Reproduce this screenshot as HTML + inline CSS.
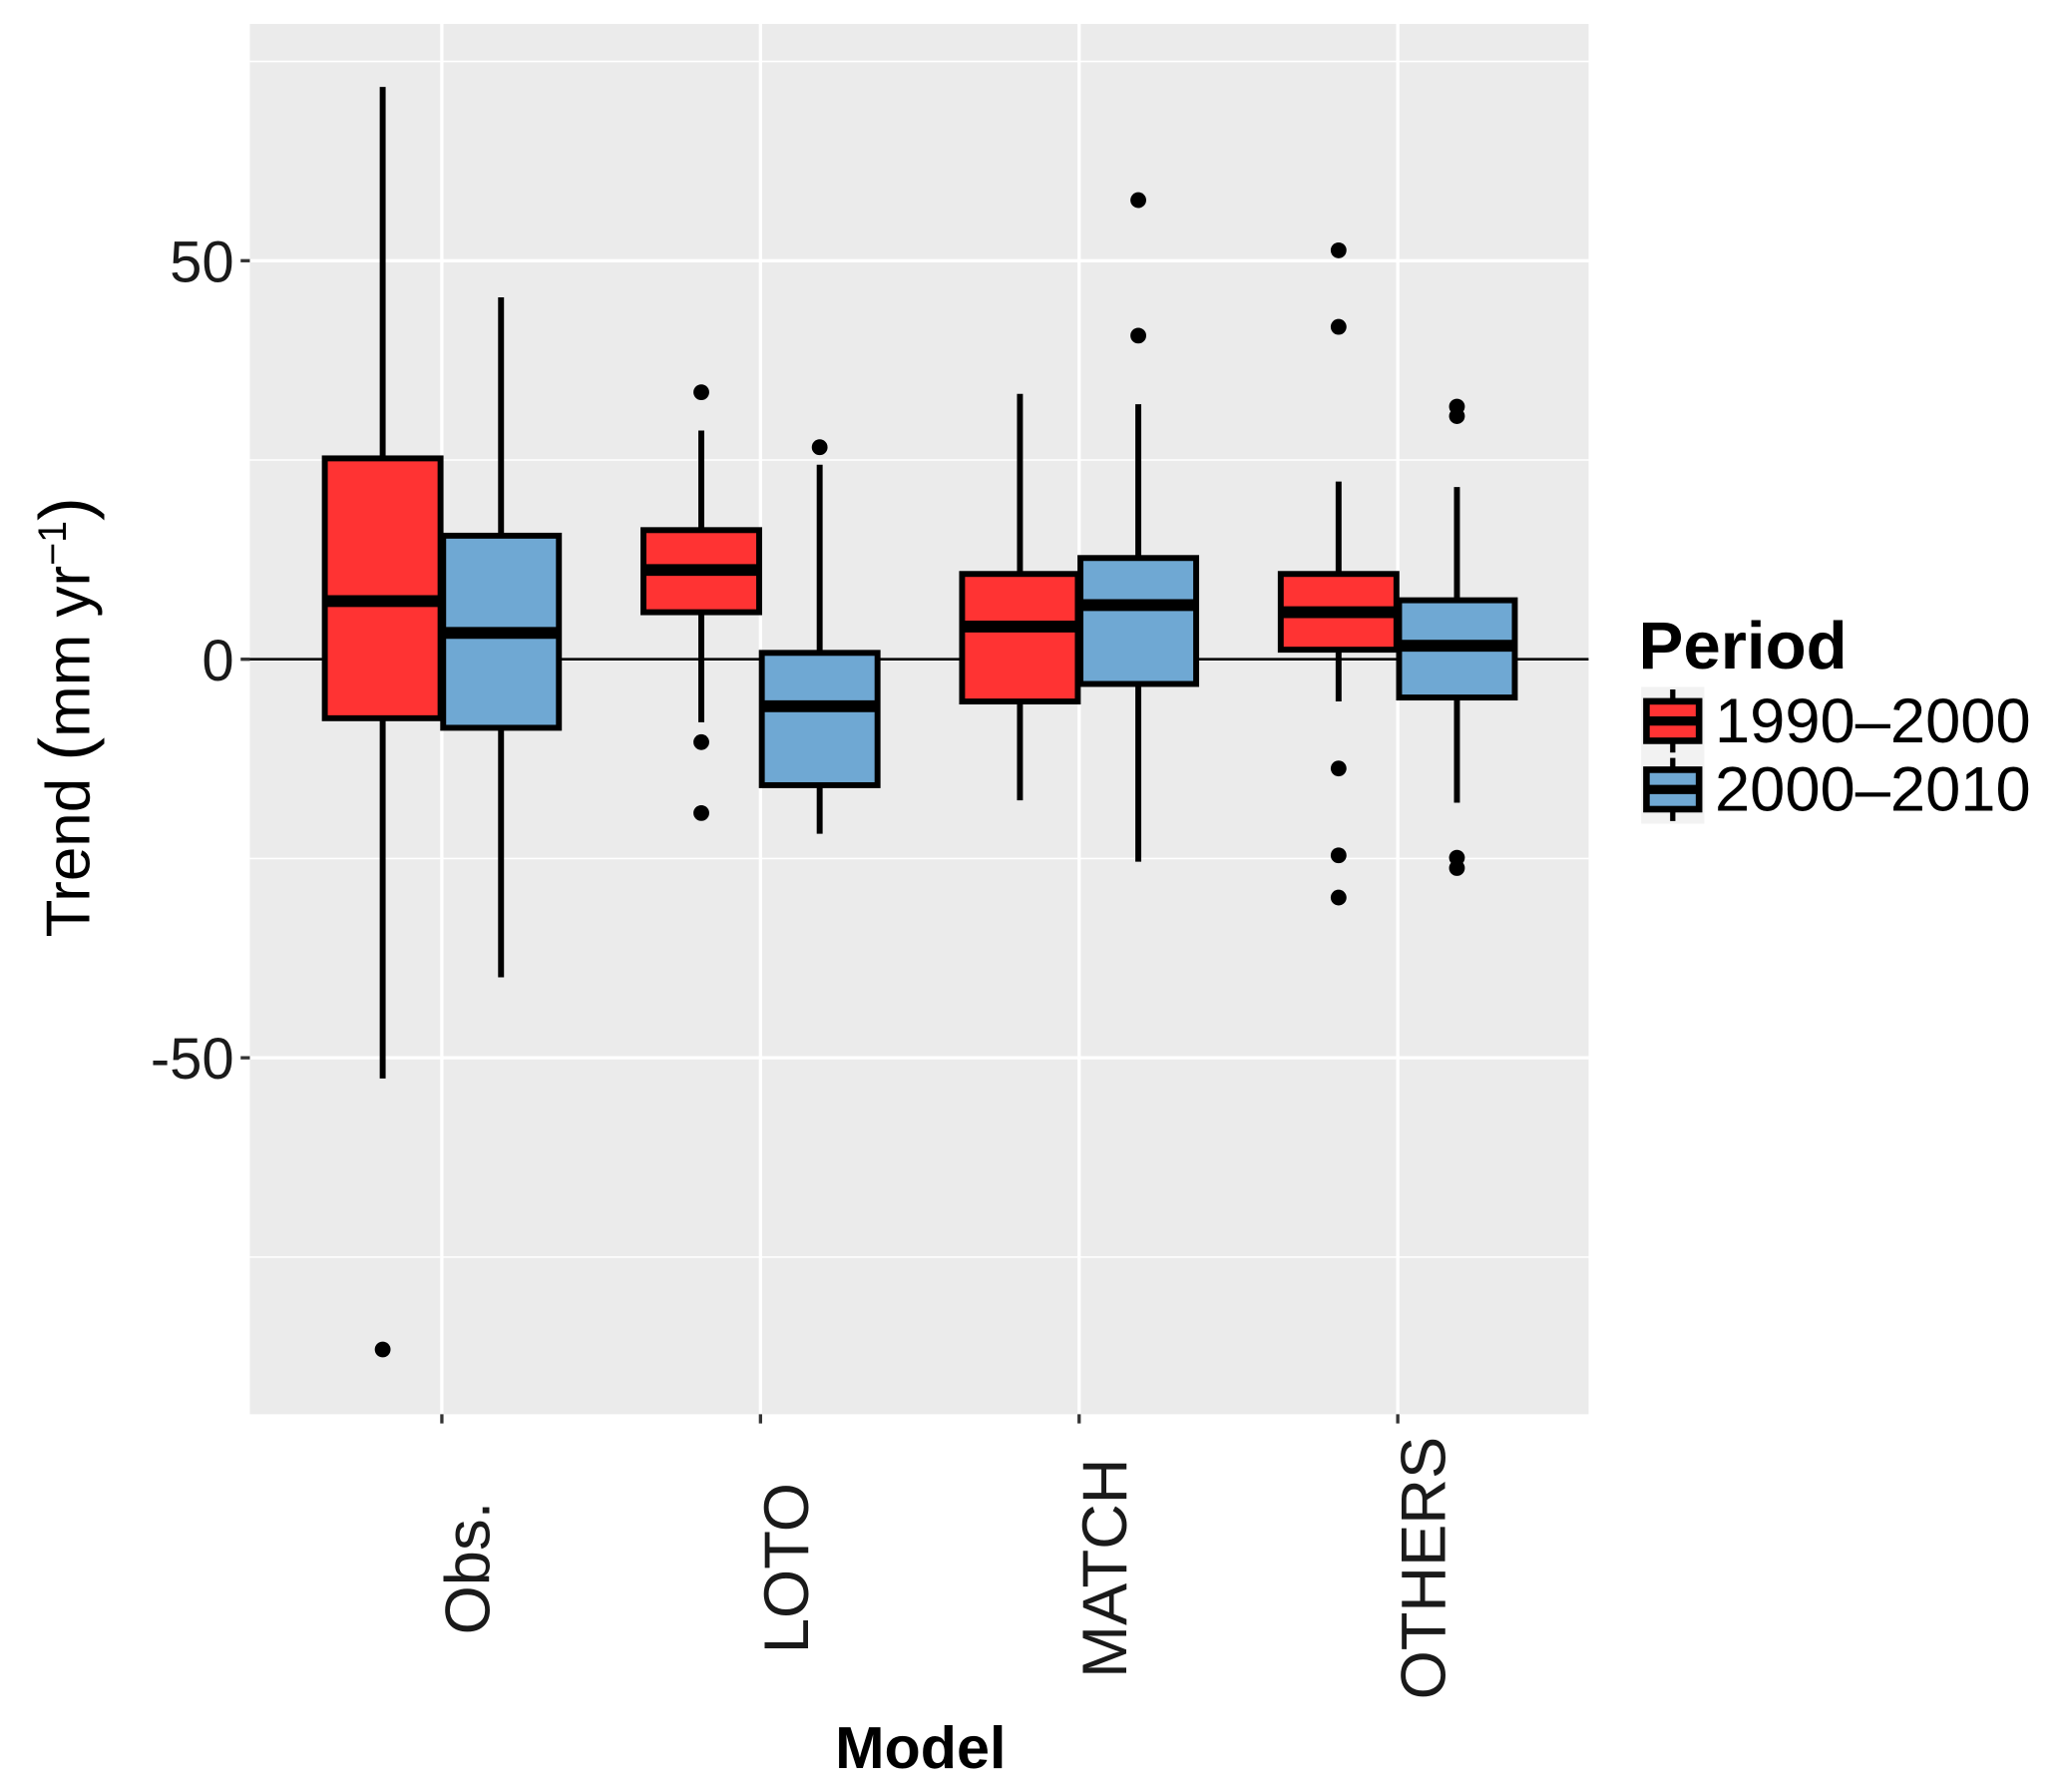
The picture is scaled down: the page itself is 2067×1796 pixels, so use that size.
<!DOCTYPE html>
<html><head><meta charset="utf-8"><style>html,body{margin:0;padding:0;background:#fff}svg{display:block}text{font-family:"Liberation Sans",Arial,sans-serif}</style></head>
<body>
<svg id="chart" width="2067" height="1796" viewBox="0 0 1568 1362" xmlns="http://www.w3.org/2000/svg">
<rect x="190" y="18" width="1018" height="1057" fill="#ebebeb"/>
<g id="grid"></g>
<g id="boxes"></g>
<g id="axes"></g>
<text transform="translate(68,545) rotate(-90)" text-anchor="middle" font-size="47">Trend <tspan font-size="54">(</tspan>mm yr<tspan dy="-18" font-size="30">−1</tspan><tspan dy="18" font-size="54">)</tspan></text>
<text x="700" y="1344" text-anchor="middle" font-size="45" font-weight="bold">Model</text>
<g>
<text x="1246" y="508" font-size="51" font-weight="bold">Period</text>
<g>
<rect x="1248" y="522" width="48" height="52" fill="#f2f2f2"/>
<line x1="1272" y1="524" x2="1272" y2="572" stroke="#000" stroke-width="4"/>
<rect x="1252" y="533" width="40" height="30" fill="#ff3333" stroke="#000" stroke-width="5"/>
<line x1="1252" y1="548" x2="1292" y2="548" stroke="#000" stroke-width="7"/>
<text x="1304" y="564" font-size="48">1990–2000</text></g>
<g>
<rect x="1248" y="574" width="48" height="52" fill="#f2f2f2"/>
<line x1="1272" y1="576" x2="1272" y2="624" stroke="#000" stroke-width="4"/>
<rect x="1252" y="585" width="40" height="30" fill="#6fa8d3" stroke="#000" stroke-width="5"/>
<line x1="1252" y1="600" x2="1292" y2="600" stroke="#000" stroke-width="7"/>
<text x="1304" y="616" font-size="48">2000–2010</text></g>
</g>
</svg>
<script>
const categories = ["Obs.", "LOTO", "MATCH", "OTHERS"];
const periods = ["1990-2000", "2000-2010"];
const colors = ["#ff3333", "#6fa8d3"];
const redLow = [-52.6, -7.9, -17.7, -5.3];
const redQ1 = [-7.4, 5.9, -5.3, 1.2];
const redMed = [7.3, 11.2, 4.1, 5.9];
const redQ3 = [25.2, 16.2, 10.7, 10.7];
const redHigh = [71.8, 28.7, 33.3, 22.3];
const redOut = [[-86.6], [33.5, -10.4, -19.3], [], [51.3, 41.7, -13.7, -24.6, -29.9]];
const blueLow = [-39.9, -21.9, -25.4, -18];
const blueQ1 = [-8.6, -15.8, -3.1, -4.8];
const blueMed = [3.3, -5.9, 6.8, 1.7];
const blueQ3 = [15.5, 0.8, 12.7, 7.4];
const blueHigh = [45.4, 24.4, 32, 21.6];
const blueOut = [[], [26.6], [57.6, 40.6], [31.7, 30.5, -24.9, -26.2]];
const majorTicks = [-50, 0, 50];
const minorTicks = [-75, -25, 25, 75];

const NS = "http://www.w3.org/2000/svg";
const y = v => 501 - v * 6.06;
const xc = i => 336 + i * 242.3;
function mk(parent, tag, attrs) {
  const e = document.createElementNS(NS, tag);
  for (const k in attrs) e.setAttribute(k, attrs[k]);
  document.getElementById(parent).appendChild(e);
  return e;
}
minorTicks.forEach(t => {
  const l = mk("grid", "line", {x1:190, x2:1208, y1:y(t), y2:y(t), stroke:"#fff", "stroke-width":1.2});
  
  
});
majorTicks.forEach(t => {
  const l = mk("grid", "line", {x1:190, x2:1208, y1:y(t), y2:y(t), stroke:"#fff", "stroke-width":2.5});
  
  
  const k = mk("axes", "line", {x1:183, x2:190, y1:y(t), y2:y(t), stroke:"#333", "stroke-width":2.5});
  
  
  const tx = mk("axes", "text", {x:178, y:y(t)+16, "text-anchor":"end", "font-size":44, fill:"#1a1a1a"});
  tx.textContent = t;
  
  
});
categories.forEach((c, i) => {
  const l = mk("grid", "line", {x1:xc(i), x2:xc(i), y1:18, y2:1075, stroke:"#fff", "stroke-width":2.5});
  
  
  const k = mk("axes", "line", {x1:xc(i), x2:xc(i), y1:1075, y2:1082, stroke:"#333", "stroke-width":2.5});
  
  
  const tx = mk("axes", "text", {transform:`translate(${xc(i)+36},1192) rotate(-90)`, "text-anchor":"middle", "font-size":48, fill:"#1a1a1a"});
  tx.textContent = c;
  
  
});
const zl = mk("grid", "line", {x1:190, x2:1208, y1:y(0), y2:y(0), stroke:"#000", "stroke-width":2});



const sets = [
  [redLow, redQ1, redMed, redQ3, redHigh, redOut],
  [blueLow, blueQ1, blueMed, blueQ3, blueHigh, blueOut]
];
sets.forEach((s, p) => {
  categories.forEach((c, i) => {
    const cx = xc(i) + (p === 0 ? -45 : 45);
    const w1 = mk("boxes", "line", {x1:cx, x2:cx, y1:y(s[4][i]), y2:y(s[3][i]), stroke:"#000", "stroke-width":4.5});
    
    
    const w2 = mk("boxes", "line", {x1:cx, x2:cx, y1:y(s[1][i]), y2:y(s[0][i]), stroke:"#000", "stroke-width":4.5});
    
    
    const b = mk("boxes", "rect", {x:cx-44, y:y(s[3][i]), width:88, height:y(s[1][i])-y(s[3][i]), fill:colors[p], stroke:"#000", "stroke-width":4.5});
    
    
    const m = mk("boxes", "line", {x1:cx-44, x2:cx+44, y1:y(s[2][i]), y2:y(s[2][i]), stroke:"#000", "stroke-width":9});
    
    
    s[5][i].forEach(v => {
      const o = mk("boxes", "circle", {cx:cx, cy:y(v), r:6, fill:"#000"});
      
      
    });
  });
});
</script>
</body></html>
